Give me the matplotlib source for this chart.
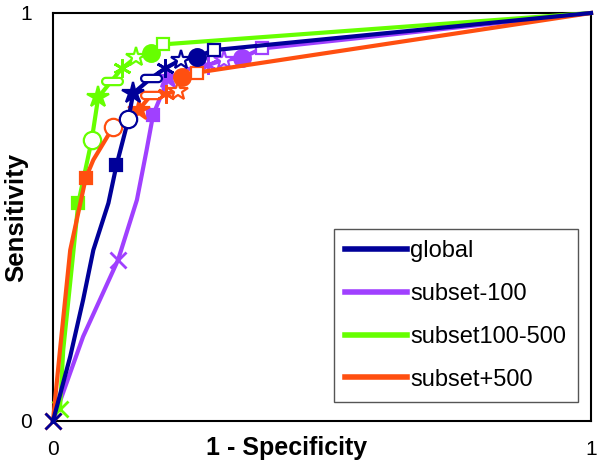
import numpy as np
import matplotlib.pyplot as plt
from matplotlib.path import Path

plt.rcParams['font.family'] = ['Liberation Sans', 'DejaVu Sans']

# curves
global_x = [0, 0.032, 0.056, 0.075, 0.103, 0.118, 0.140, 0.149, 0.183, 0.208, 0.237, 0.268, 0.299, 1]
global_y = [0, 0.158, 0.297, 0.419, 0.534, 0.627, 0.739, 0.803, 0.841, 0.864, 0.885, 0.893, 0.909, 1]

sub100_x = [0, 0.056, 0.121, 0.156, 0.174, 0.186, 0.214, 0.250, 0.289, 0.317, 0.351, 0.388, 1]
sub100_y = [0, 0.207, 0.395, 0.542, 0.664, 0.750, 0.840, 0.862, 0.873, 0.885, 0.890, 0.913, 1]

sub100_500_x = [0.013, 0.019, 0.035, 0.047, 0.072, 0.084, 0.109, 0.128, 0.154, 0.183, 0.204, 1]
sub100_500_y = [0.030, 0.174, 0.378, 0.534, 0.689, 0.793, 0.834, 0.864, 0.891, 0.903, 0.923, 1]

sub500_x = [0, 0.013, 0.032, 0.061, 0.075, 0.112, 0.159, 0.183, 0.210, 0.233, 0.240, 0.268, 1]
sub500_y = [0, 0.174, 0.419, 0.596, 0.640, 0.721, 0.762, 0.800, 0.802, 0.810, 0.844, 0.854, 1]

# threshold markers: x, sq, open circle, star, capsule, asterisk, open star, dot, open square
global_mx = [0, 0.118, 0.140, 0.149, 0.183, 0.208, 0.237, 0.268, 0.299]
global_my = [0, 0.627, 0.739, 0.803, 0.841, 0.864, 0.885, 0.893, 0.909]
sub100_mx = [0.121, 0.186, None, 0.214, None, 0.289, 0.317, 0.351, 0.388]
sub100_my = [0.395, 0.750, None, 0.840, None, 0.873, 0.885, 0.890, 0.913]
sub100_500_mx = [0.013, 0.047, 0.072, 0.084, 0.109, 0.128, 0.154, 0.183, 0.204]
sub100_500_my = [0.030, 0.534, 0.689, 0.793, 0.834, 0.864, 0.891, 0.903, 0.923]
sub500_mx = [0, 0.061, 0.112, 0.159, 0.183, 0.210, 0.233, 0.240, 0.268]
sub500_my = [0, 0.596, 0.721, 0.762, 0.800, 0.802, 0.810, 0.844, 0.854]

labels = ['global', 'subset-100', 'subset100-500', 'subset+500']
colors = ['#000099', '#A040FF', '#66FF00', '#FF4F10']

# capsule shaped marker
t = np.linspace(-np.pi / 2, np.pi / 2, 15)
r = 0.35
right = np.column_stack([0.65 + r * np.cos(t), r * np.sin(t)])
left = np.column_stack([-0.65 - r * np.cos(t), -r * np.sin(t)])
capsule = Path(np.vstack([right, left, right[:1]]), closed=True)

# (marker, size, filled)
styles = [('x', 11, True), ('s', 8.5, True), ('o', 12.5, False), ('*', 16, True),
          (capsule, 15, False), ((6, 2, 0), 13, True), ('*', 15, False),
          ('o', 12, True), ('s', 8.5, False)]

fig = plt.figure(figsize=(6, 4.75), dpi=100)
ax = fig.add_axes([53 / 600, 54 / 475, 538 / 600, 408 / 475])

series = [
    (global_x, global_y, global_mx, global_my),
    (sub100_x, sub100_y, sub100_mx, sub100_my),
    (sub100_500_x, sub100_500_y, sub100_500_mx, sub100_500_my),
    (sub500_x, sub500_y, sub500_mx, sub500_my),
]
zorders = [5, 2, 3, 4]

for (lx, ly, mx, my), lab, c, z in zip(series, labels, colors, zorders):
    ax.plot(lx, ly, color=c, lw=3, label=lab, zorder=z, clip_on=False)
    for px, py, (m, ms, filled) in zip(mx, my, styles):
        if px is None:
            continue
        ax.plot([px], [py], linestyle='none', marker=m, markersize=ms,
                markerfacecolor=c if filled else 'white', markeredgecolor=c,
                markeredgewidth=2 if m in ('x',) or isinstance(m, tuple) else 1.6,
                zorder=z + 0.5, clip_on=False)

ax.set_xlim(0, 1)
ax.set_ylim(0, 1)
ax.set_xticks([0, 1])
ax.set_yticks([0, 1])
ax.set_xticklabels(['0', '1'])
ax.set_yticklabels(['0', '1'])
ax.tick_params(length=0, labelsize=15)
ax.tick_params(axis='x', pad=14)
ax.tick_params(axis='y', pad=15)
for s in ax.spines.values():
    s.set_linewidth(1.5)

ax.set_xlabel('1 - Specificity', fontsize=18, fontweight='bold')
ax.xaxis.label.set_verticalalignment('center')
ax.xaxis.set_label_coords((287 - 53) / 538, -27 / 408)
ax.set_ylabel('Sensitivity', fontsize=18.5, fontweight='bold')
ax.yaxis.label.set_verticalalignment('center')
ax.yaxis.set_label_coords(-37 / 538, 0.5)

leg = ax.legend(loc='upper left', bbox_to_anchor=((334 - 53) / 538, (421 - 229) / 408),
                borderaxespad=0, fontsize=17, handlelength=2.6, handletextpad=0.15,
                labelspacing=0.88, borderpad=0.48, fancybox=False, framealpha=1)
leg.get_frame().set_edgecolor('#555555')
leg.get_frame().set_linewidth(1)
for h in leg.get_lines():
    h.set_linewidth(4)

fig.savefig('out.png', dpi=100)
